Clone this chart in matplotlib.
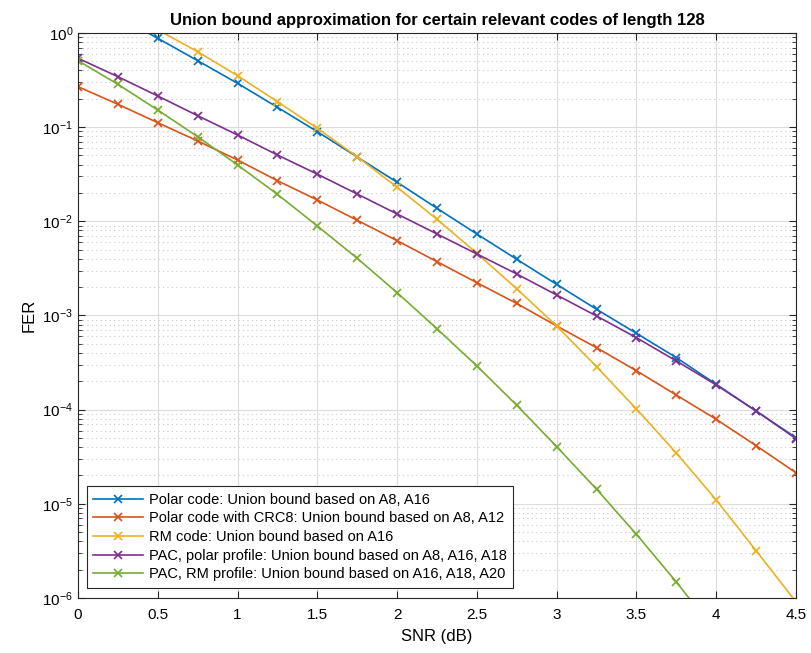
#!/usr/bin/env python3
"""
Union bound approximation (FER vs SNR) for several length-128 codes,
redrawn in the MATLAB semilogy look.
"""

import numpy as np
import matplotlib
matplotlib.use("Agg")
import matplotlib.pyplot as plt
from matplotlib.ticker import LogLocator, NullFormatter, MultipleLocator, FormatStrFormatter

plt.rcParams["font.family"] = ["Liberation Sans", "DejaVu Sans"]

# SNR grid (dB)
snr = [0, 0.25, 0.5, 0.75, 1.0, 1.25, 1.5, 1.75, 2.0, 2.25, 2.5, 2.75,
       3.0, 3.25, 3.5, 3.75, 4.0, 4.25, 4.5]

# FER values
fer_polar = [2.6, 1.5, 0.878, 0.508, 0.292, 0.1625, 0.0895, 0.0482, 0.026,
             0.01375, 0.00733, 0.00395, 0.00214, 0.001164, 0.000647,
             0.000357, 0.000186, 9.68e-5, 5.04e-5]
fer_crc8 = [0.269, 0.175, 0.1115, 0.0713, 0.0448, 0.027, 0.01685, 0.01026,
            0.00623, 0.00373, 0.00223, 0.001342, 0.000774, 0.000455,
            0.000259, 0.000143, 7.9e-5, 4.15e-5, 2.14e-5]
fer_rm = [2.9, 1.8, 1.08, 0.633, 0.352, 0.1865, 0.0973, 0.0485, 0.023,
          0.01051, 0.00458, 0.00192, 0.000774, 0.000286, 0.0001017,
          3.47e-5, 1.1e-5, 3.18e-6, 9.1e-7]
fer_pac_polar = [0.539, 0.3435, 0.2143, 0.1323, 0.0826, 0.0506, 0.0317,
                 0.0195, 0.01197, 0.00734, 0.0045, 0.00276, 0.00165,
                 0.000988, 0.000581, 0.000329, 0.000183, 9.68e-5, 4.92e-5]
fer_pac_rm = [0.508, 0.285, 0.152, 0.0792, 0.0397, 0.01936, 0.00892,
              0.00405, 0.001747, 0.000724, 0.000291, 0.0001114, 4.05e-5,
              1.43e-5, 4.75e-6, 1.48e-6, 4.3e-7]

labels = [
    "Polar code: Union bound based on A8, A16",
    "Polar code with CRC8: Union bound based on A8, A12",
    "RM code: Union bound based on A16",
    "PAC, polar profile: Union bound based on A8, A16, A18",
    "PAC, RM profile: Union bound based on A16, A18, A20",
]
colors = ["#0072BD", "#D95319", "#EDB120", "#7E2F8E", "#77AC30"]

fig = plt.figure(figsize=(8.11, 6.53), dpi=100)
ax = fig.add_axes([0.0962, 0.0842, 0.8853, 0.8653])

series = [fer_polar, fer_crc8, fer_rm, fer_pac_polar, fer_pac_rm]
for vals, lab, col in zip(series, labels, colors):
    ax.semilogy(snr[:len(vals)], vals, "-x", color=col, lw=1.2,
                markersize=6, markeredgewidth=1.2, label=lab)

ax.set_xlim(0, 4.5)
ax.set_ylim(1e-6, 1)
ax.xaxis.set_major_locator(MultipleLocator(0.5))
ax.xaxis.set_major_formatter(FormatStrFormatter("%g"))
ax.yaxis.set_major_locator(LogLocator(base=10, numticks=10))
ax.yaxis.set_minor_locator(LogLocator(base=10, subs=np.arange(2, 10), numticks=20))
ax.yaxis.set_minor_formatter(NullFormatter())

# matlab style grid: solid major, dotted minor
ax.grid(True, which="major", color="#dcdcdc", lw=0.8, ls="-")
ax.grid(True, which="minor", axis="y", color="#c8c8c8", lw=0.8, ls=(0, (1, 3)))
ax.set_axisbelow(True)

ax.tick_params(which="both", direction="in", top=True, right=True,
               labelsize=11, color="#262626")
ax.tick_params(which="major", length=5)
ax.tick_params(which="minor", length=3)
ax.tick_params(axis="x", pad=7)
for sp in ax.spines.values():
    sp.set_color("#262626")
    sp.set_linewidth(0.8)

ax.set_xlabel("SNR (dB)", fontsize=12, labelpad=5)
ax.set_ylabel("FER", fontsize=12, labelpad=4)
ax.set_title("Union bound approximation for certain relevant codes of length 128",
             fontsize=12, fontweight="bold", pad=6)

leg = ax.legend(loc="lower left", bbox_to_anchor=(0.012, 0.018), fontsize=10.5,
                fancybox=False, edgecolor="#262626", framealpha=1,
                handlelength=3.4, handletextpad=0.4, labelspacing=0.32,
                borderpad=0.45, borderaxespad=0)
leg.get_frame().set_linewidth(0.8)

plt.savefig("out.png", dpi=100)
